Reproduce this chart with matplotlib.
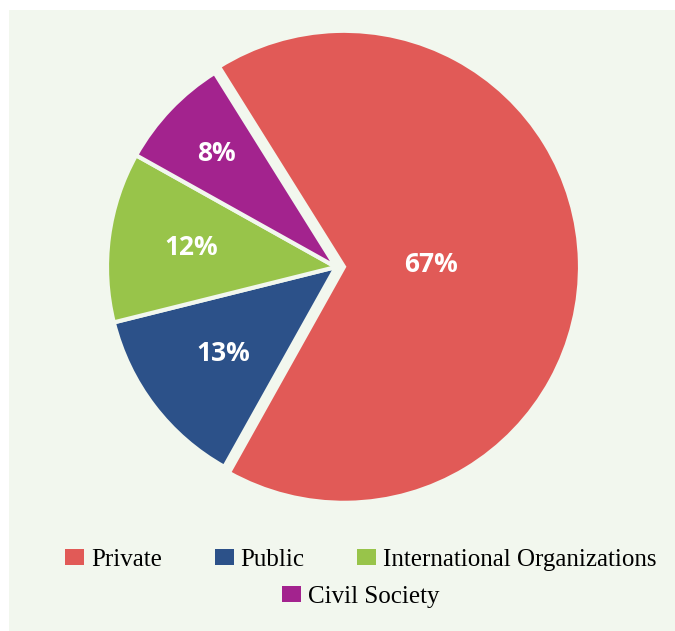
import matplotlib
matplotlib.use("Agg")
import matplotlib.pyplot as plt
from matplotlib.patches import Rectangle, Patch
import numpy as np

categories = ["Private", "Public", "International Organizations", "Civil Society"]
values = [67, 13, 12, 8]
colors = ["#e15a57", "#2c5189", "#98c44a", "#a3238e"]
bg = "#f2f7ee"

W, H = 675, 631
fig = plt.figure(figsize=(W / 100, H / 100), dpi=100)
fig.patch.set_facecolor("white")
fig.add_artist(Rectangle((9 / W, 0), 1 - 9 / W, (H - 10) / H, transform=fig.transFigure,
                         facecolor=bg, edgecolor="none", zorder=0))

cx, cy, R = 336, 267, 236
ax = fig.add_axes([(cx - R) / W, (H - cy - R) / H, 2 * R / W, 2 * R / H])

explode = [8 / R, 0, 0, 0]
wedges, texts, autotexts = ax.pie(
    values, colors=colors, startangle=122, counterclock=False, explode=explode,
    autopct=lambda p: f"{p:.0f}%", pctdistance=0.65, radius=1,
    wedgeprops=dict(edgecolor=bg, linewidth=3),
    textprops=dict(color="white", fontsize=19, fontweight="bold", family="Open Sans"))
ax.set_xlim(-1, 1)
ax.set_ylim(-1, 1)
ax.set_aspect("auto")
ax.axis("off")

small_r = 229 / R
for w in wedges[1:]:
    w.set_radius(small_r)

dists = [0.37, 0.60, 0.62, 0.70]
for w, t, d in zip(wedges, autotexts, dists):
    ang = np.deg2rad((w.theta1 + w.theta2) / 2)
    c = w.center
    t.set_position((c[0] + d * np.cos(ang), c[1] + d * np.sin(ang)))

handles = [Patch(facecolor=c, edgecolor="none") for c in colors]
leg_kw = dict(frameon=False, handlelength=0.76, handleheight=0.6, handletextpad=0.28,
              columnspacing=2.1, prop=dict(family="Liberation Serif", size=18), borderpad=0)
leg1 = fig.legend(handles[:3], categories[:3], ncol=3, loc="center",
                  bbox_to_anchor=(361 / W, 1 - 560 / H), **leg_kw)
leg2 = fig.legend(handles[3:], categories[3:], ncol=1, loc="center",
                  bbox_to_anchor=(361 / W, 1 - 597 / H), **leg_kw)

fig.savefig("out.png", dpi=100, facecolor=fig.get_facecolor())
